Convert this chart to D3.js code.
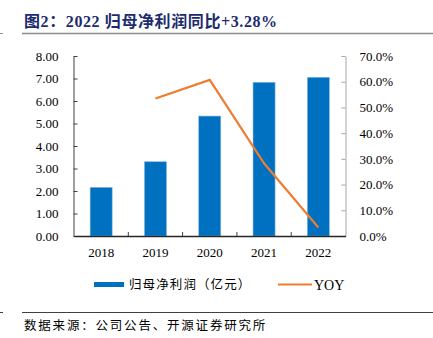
<!DOCTYPE html>
<html><head><meta charset="utf-8">
<script src="https://cdn.jsdelivr.net/npm/d3@7"></script>
<style>body{margin:0;background:#fff}svg{display:block}</style>
</head><body>
<svg id="c" width="433" height="338"></svg>
<script>
const years = ["2018","2019","2020","2021","2022"];
const profit = [2.16, 3.30, 5.33, 6.83, 7.05];
const yoy = [null, 53.5, 60.7, 28.3, 3.28];
const leftTicks = [0,1,2,3,4,5,6,7,8];
const rightTicks = [0,10,20,30,40,50,60,70];

const svg = d3.select("#c");
const serif = "'Liberation Serif','Times New Roman',serif";
const cjk = "'Noto Sans CJK SC',sans-serif";
const L = 73.5, R = 345.5, T = 56, B = 236;

// title
svg.append("text").attr("x",24).attr("y",26.5).attr("font-family","'Liberation Serif','Noto Sans CJK SC',serif")
  .attr("font-weight","bold").attr("font-size",16).attr("letter-spacing",0.6).attr("fill","#1c2b6e")
  .text("图2：2022 归母净利润同比+3.28%");
svg.append("line").attr("x1",22).attr("x2",433).attr("y1",33.5).attr("y2",33.5).attr("stroke","#8c8c8c").attr("stroke-width",1.5);
svg.append("line").attr("x1",0).attr("x2",3).attr("y1",33.5).attr("y2",33.5).attr("stroke","#8c8c8c").attr("stroke-width",1);

const x = d3.scaleBand().domain(years).range([L+0.5,R]).padding(0);
const yL = d3.scaleLinear().domain([0,8]).range([B,T]);
const yR = d3.scaleLinear().domain([0,70]).range([B,T]);

// bars
svg.append("g").selectAll("rect").data(profit).join("rect")
  .attr("x",(d,i)=>x(years[i])+x.bandwidth()/2-11).attr("width",22)
  .attr("y",d=>yL(d)).attr("height",d=>B-yL(d)).attr("fill","#0070c0")
  .attr("stroke","#7fb5e0").attr("stroke-width",0.6);

// line
const pts = yoy.map((v,i)=>({v,i})).filter(d=>d.v!==null);
svg.append("path").datum(pts)
  .attr("d",d3.line().x(d=>x(years[d.i])+x.bandwidth()/2).y(d=>yR(d.v)))
  .attr("fill","none").attr("stroke","#ed7d31").attr("stroke-width",2.2);

// left axis
const gl = svg.append("g").attr("transform",`translate(${L},0)`)
  .call(d3.axisLeft(yL).tickValues(leftTicks).tickFormat(d3.format(".2f")).tickSizeInner(-4).tickSizeOuter(0).tickPadding(15));
gl.select(".domain").attr("stroke","#404040");
gl.selectAll(".tick line").attr("stroke","#404040");
gl.selectAll("text").attr("font-family",serif).attr("font-size",13).attr("fill","#000");

// right axis
const gr = svg.append("g").attr("transform",`translate(${R},0)`)
  .call(d3.axisRight(yR).tickValues(rightTicks).tickFormat(d=>d.toFixed(1)+"%").tickSizeInner(-4).tickSizeOuter(0).tickPadding(14));
gr.select(".domain").attr("stroke","#a6a6a6");
gr.selectAll(".tick line").attr("stroke","#a6a6a6");
gr.selectAll("text").attr("font-family",serif).attr("font-size",13).attr("fill","#000");

// bottom axis
const gb = svg.append("g").attr("transform",`translate(0,${B})`)
  .call(d3.axisBottom(x).tickSize(0).tickPadding(12));
gb.select(".domain").attr("stroke","#262626").attr("stroke-width",1.3);
gb.selectAll("text").attr("font-family",serif).attr("font-size",13).attr("fill","#000");
svg.append("g").selectAll("line").data(years.slice(1)).join("line")
  .attr("x1",d=>x(d)).attr("x2",d=>x(d)).attr("y1",B).attr("y2",B-4)
  .attr("stroke","#404040");

// legend
svg.append("rect").attr("x",94).attr("y",282).attr("width",30).attr("height",5).attr("fill","#0070c0");
svg.append("text").attr("x",129).attr("y",289).attr("font-family",cjk).attr("font-size",12.5).attr("letter-spacing",1.1).attr("fill","#000")
  .text("归母净利润（亿元）");
svg.append("line").attr("x1",278).attr("x2",312).attr("y1",284.5).attr("y2",284.5).attr("stroke","#ed7d31").attr("stroke-width",2);
svg.append("text").attr("x",314).attr("y",290).attr("font-family",serif).attr("font-size",14).attr("fill","#000").text("YOY");

// footer
svg.append("line").attr("x1",22).attr("x2",433).attr("y1",312.5).attr("y2",312.5).attr("stroke","#404040").attr("stroke-width",1);
svg.append("line").attr("x1",0).attr("x2",3).attr("y1",312.5).attr("y2",312.5).attr("stroke","#404040").attr("stroke-width",1);
svg.append("text").attr("x",24).attr("y",330).attr("font-family",cjk).attr("font-size",12.5).attr("letter-spacing",1.8).attr("fill","#000")
  .text("数据来源：公司公告、开源证券研究所");
</script>
</body></html>
